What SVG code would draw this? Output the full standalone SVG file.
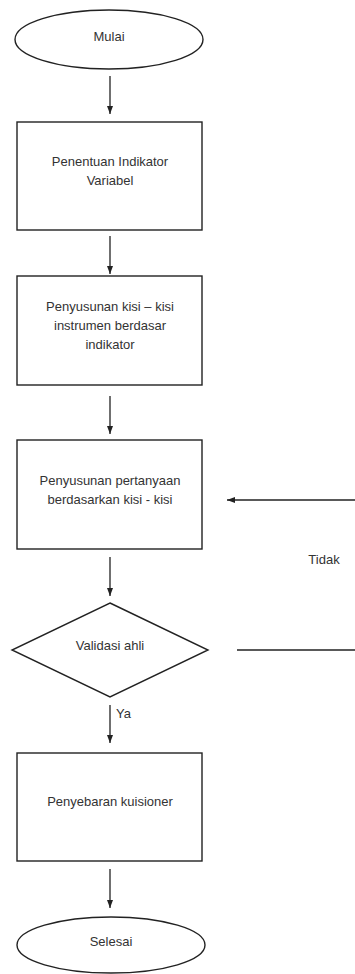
<svg xmlns="http://www.w3.org/2000/svg" width="355" height="974" viewBox="0 0 355 974">
<style>
.s{fill:#fff;stroke:#222;stroke-width:1.4}
.t{font-family:"Liberation Sans",Arial,sans-serif;font-size:13px;fill:#333;text-anchor:middle}
.c{stroke:#222;stroke-width:1.3;fill:none}
</style>
<defs>
<marker id="ah" viewBox="0 0 8 8" refX="8" refY="4" markerWidth="8" markerHeight="8" markerUnits="userSpaceOnUse" orient="auto">
<path d="M0,1 L8,4 L0,7 Z" fill="#222"/>
</marker>
</defs>
<rect width="355" height="974" fill="#fff"/>
<g id="mulai"><ellipse class="s" cx="109" cy="39.5" rx="94" ry="29.5"/><text class="t" x="109" y="41">Mulai</text></g>
<g id="indikator"><rect class="s" x="17" y="122" width="185" height="108"/><text class="t" x="110" y="166">Penentuan Indikator</text><text class="t" x="110" y="185">Variabel</text></g>
<g id="kisi"><rect class="s" x="17" y="276" width="185" height="109"/><text class="t" x="110" y="311">Penyusunan kisi – kisi</text><text class="t" x="110" y="330">instrumen berdasar</text><text class="t" x="110" y="349">indikator</text></g>
<g id="pertanyaan"><rect class="s" x="17" y="440" width="185" height="109"/><text class="t" x="110" y="485">Penyusunan pertanyaan</text><text class="t" x="110" y="504">berdasarkan kisi - kisi</text></g>
<g id="validasi"><polygon class="s" points="110,603 208,650 110,697 12,650"/><text class="t" x="110" y="650">Validasi ahli</text></g>
<g id="penyebaran"><rect class="s" x="17" y="753" width="185" height="108"/><text class="t" x="110" y="806">Penyebaran kuisioner</text></g>
<g id="selesai"><ellipse class="s" cx="111" cy="945" rx="94" ry="28"/><text class="t" x="111" y="946">Selesai</text></g>
<g id="connectors">
<line class="c" x1="110" y1="76" x2="110" y2="114" marker-end="url(#ah)"/>
<line class="c" x1="110" y1="236" x2="110" y2="274" marker-end="url(#ah)"/>
<line class="c" x1="110" y1="396" x2="110" y2="434" marker-end="url(#ah)"/>
<line class="c" x1="110" y1="557" x2="110" y2="596" marker-end="url(#ah)"/>
<line class="c" x1="110" y1="705" x2="110" y2="743" marker-end="url(#ah)"/>
<line class="c" x1="110" y1="869" x2="110" y2="908" marker-end="url(#ah)"/>
<line class="c" x1="355" y1="500" x2="227" y2="500" marker-end="url(#ah)"/>
<line class="c" x1="237" y1="650" x2="355" y2="650"/>
<text class="t" x="116" y="718" style="text-anchor:start">Ya</text>
<text class="t" x="324" y="564">Tidak</text>
</g>
</svg>
